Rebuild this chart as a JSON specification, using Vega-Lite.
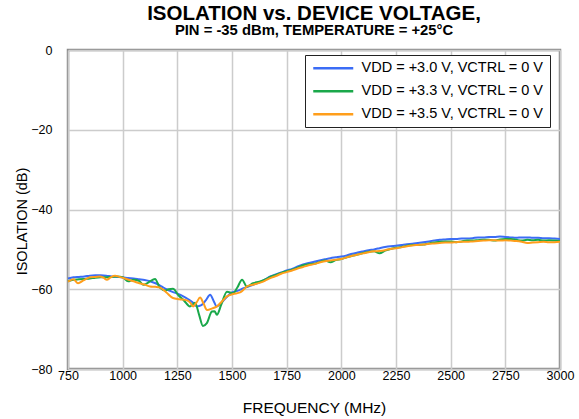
{
  "$schema": "https://vega.github.io/schema/vega-lite/v6.json",
  "width": 492,
  "height": 319,
  "autosize": {"type": "none"},
  "padding": {"left": 68, "top": 50, "right": 19, "bottom": 50},
  "background": "white",
  "title": {
    "text": "ISOLATION vs. DEVICE VOLTAGE,",
    "subtitle": "PIN = -35 dBm, TEMPERATURE = +25°C",
    "anchor": "middle",
    "font": "Liberation Sans",
    "fontSize": 20.5,
    "fontWeight": "bold",
    "color": "black",
    "subtitleFont": "Liberation Sans",
    "subtitleFontSize": 14.8,
    "subtitleFontWeight": "bold",
    "subtitleColor": "black",
    "subtitlePadding": -1,
    "offset": 6
  },
  "config": {
    "view": {"stroke": "#8a8a8a", "strokeWidth": 2.5},
    "axis": {
      "labelFont": "Liberation Sans",
      "labelFontSize": 12.5,
      "labelColor": "black",
      "titleFont": "Liberation Sans",
      "titleFontWeight": "normal",
      "titleColor": "black",
      "gridColor": "#cccccc",
      "gridWidth": 1.5,
      "gridOpacity": 1,
      "ticks": false,
      "domain": false
    }
  },
  "datasets": {
    "v30": [
      {"f":750,"v":-57.3},{"f":775,"v":-57.0},{"f":800,"v":-56.9},{"f":825,"v":-56.8},{"f":850,"v":-56.6},{"f":875,"v":-56.5},{"f":900,"v":-56.5},{"f":925,"v":-56.6},{"f":950,"v":-56.8},{"f":975,"v":-56.9},
      {"f":1000,"v":-57.0},{"f":1025,"v":-57.2},{"f":1050,"v":-57.3},{"f":1075,"v":-57.5},{"f":1100,"v":-57.7},{"f":1125,"v":-58.0},{"f":1150,"v":-58.5},{"f":1175,"v":-59.2},{"f":1200,"v":-60.0},{"f":1225,"v":-60.6},
      {"f":1250,"v":-61.1},{"f":1275,"v":-61.7},{"f":1300,"v":-62.5},{"f":1325,"v":-63.5},{"f":1340,"v":-64.3},{"f":1360,"v":-64.0},{"f":1380,"v":-62.8},{"f":1400,"v":-61.4},{"f":1415,"v":-62.8},{"f":1430,"v":-64.3},
      {"f":1450,"v":-63.5},{"f":1475,"v":-62.0},{"f":1500,"v":-60.8},{"f":1525,"v":-60.4},{"f":1550,"v":-59.8},{"f":1575,"v":-59.3},{"f":1600,"v":-58.8},{"f":1625,"v":-58.3},{"f":1650,"v":-57.6},{"f":1675,"v":-56.8},
      {"f":1700,"v":-56.3},{"f":1725,"v":-55.8},{"f":1750,"v":-55.3},{"f":1775,"v":-54.9},{"f":1800,"v":-54.3},{"f":1825,"v":-53.8},{"f":1850,"v":-53.4},{"f":1875,"v":-53.1},{"f":1900,"v":-52.8},{"f":1925,"v":-52.5},
      {"f":1950,"v":-52.2},{"f":1975,"v":-52.0},{"f":2000,"v":-51.8},{"f":2025,"v":-51.5},{"f":2050,"v":-51.1},{"f":2075,"v":-50.8},{"f":2100,"v":-50.5},{"f":2125,"v":-50.2},{"f":2150,"v":-50.0},{"f":2175,"v":-49.7},
      {"f":2200,"v":-49.4},{"f":2225,"v":-49.2},{"f":2250,"v":-49.1},{"f":2275,"v":-48.9},{"f":2300,"v":-48.7},{"f":2325,"v":-48.6},{"f":2350,"v":-48.4},{"f":2375,"v":-48.2},{"f":2400,"v":-48.0},{"f":2425,"v":-47.8},
      {"f":2450,"v":-47.6},{"f":2475,"v":-47.5},{"f":2500,"v":-47.4},{"f":2525,"v":-47.4},{"f":2550,"v":-47.3},{"f":2575,"v":-47.3},{"f":2600,"v":-47.2},{"f":2625,"v":-47.0},{"f":2650,"v":-47.0},{"f":2675,"v":-46.9},
      {"f":2700,"v":-46.9},{"f":2725,"v":-46.8},{"f":2750,"v":-46.9},{"f":2775,"v":-47.0},{"f":2800,"v":-47.1},{"f":2825,"v":-47.0},{"f":2850,"v":-47.0},{"f":2875,"v":-47.1},{"f":2900,"v":-47.1},{"f":2925,"v":-47.2},
      {"f":2950,"v":-47.2},{"f":2975,"v":-47.3},{"f":3000,"v":-47.4}
    ],
    "v33": [
      {"f":750,"v":-58.0},{"f":775,"v":-57.6},{"f":800,"v":-57.5},{"f":825,"v":-57.4},{"f":850,"v":-57.3},{"f":875,"v":-57.1},{"f":900,"v":-57.0},{"f":925,"v":-57.0},{"f":950,"v":-56.9},{"f":975,"v":-56.8},
      {"f":1000,"v":-57.0},{"f":1025,"v":-58.0},{"f":1050,"v":-57.6},{"f":1075,"v":-57.9},{"f":1095,"v":-58.9},{"f":1120,"v":-58.2},{"f":1148,"v":-57.4},{"f":1170,"v":-59.6},{"f":1195,"v":-60.3},{"f":1210,"v":-60.0},
      {"f":1230,"v":-59.9},{"f":1255,"v":-61.5},{"f":1280,"v":-62.8},{"f":1308,"v":-64.3},{"f":1331,"v":-63.4},{"f":1350,"v":-66.5},{"f":1367,"v":-69.2},{"f":1385,"v":-68.5},{"f":1408,"v":-65.6},{"f":1420,"v":-65.5},
      {"f":1431,"v":-66.4},{"f":1450,"v":-64.0},{"f":1477,"v":-60.6},{"f":1505,"v":-61.0},{"f":1525,"v":-59.5},{"f":1546,"v":-57.6},{"f":1568,"v":-59.3},{"f":1596,"v":-58.5},{"f":1625,"v":-58.1},{"f":1650,"v":-57.6},
      {"f":1675,"v":-56.9},{"f":1700,"v":-56.4},{"f":1725,"v":-55.9},{"f":1750,"v":-55.5},{"f":1775,"v":-55.1},{"f":1800,"v":-54.6},{"f":1825,"v":-54.0},{"f":1850,"v":-53.7},{"f":1875,"v":-53.6},{"f":1900,"v":-53.2},
      {"f":1925,"v":-52.8},{"f":1950,"v":-53.2},{"f":1975,"v":-52.7},{"f":2000,"v":-52.4},{"f":2025,"v":-52.0},{"f":2050,"v":-51.6},{"f":2075,"v":-51.3},{"f":2100,"v":-50.9},{"f":2125,"v":-50.6},{"f":2150,"v":-50.5},
      {"f":2175,"v":-51.0},{"f":2200,"v":-50.3},{"f":2225,"v":-49.9},{"f":2250,"v":-49.6},{"f":2275,"v":-49.4},{"f":2300,"v":-49.1},{"f":2325,"v":-48.9},{"f":2350,"v":-48.9},{"f":2375,"v":-48.8},{"f":2400,"v":-48.5},
      {"f":2425,"v":-48.3},{"f":2450,"v":-48.1},{"f":2475,"v":-48.0},{"f":2500,"v":-48.0},{"f":2525,"v":-48.2},{"f":2550,"v":-48.0},{"f":2575,"v":-47.8},{"f":2600,"v":-47.8},{"f":2625,"v":-47.7},{"f":2650,"v":-47.6},
      {"f":2675,"v":-47.6},{"f":2700,"v":-47.8},{"f":2725,"v":-47.5},{"f":2750,"v":-47.4},{"f":2775,"v":-47.4},{"f":2800,"v":-47.6},{"f":2825,"v":-47.8},{"f":2850,"v":-47.6},{"f":2875,"v":-47.7},{"f":2900,"v":-47.6},
      {"f":2925,"v":-47.8},{"f":2950,"v":-47.7},{"f":2975,"v":-47.8},{"f":3000,"v":-47.9}
    ],
    "v35": [
      {"f":750,"v":-58.1},{"f":775,"v":-57.5},{"f":796,"v":-58.5},{"f":820,"v":-57.8},{"f":851,"v":-57.0},{"f":875,"v":-56.9},{"f":896,"v":-56.8},{"f":912,"v":-57.1},{"f":928,"v":-57.6},{"f":945,"v":-57.0},
      {"f":965,"v":-56.6},{"f":985,"v":-56.9},{"f":1010,"v":-57.3},{"f":1033,"v":-57.7},{"f":1050,"v":-58.0},{"f":1070,"v":-58.4},{"f":1100,"v":-58.8},{"f":1125,"v":-59.3},{"f":1150,"v":-59.4},{"f":1171,"v":-59.6},
      {"f":1200,"v":-60.8},{"f":1230,"v":-62.2},{"f":1260,"v":-62.5},{"f":1294,"v":-62.8},{"f":1310,"v":-63.4},{"f":1322,"v":-64.3},{"f":1338,"v":-63.3},{"f":1354,"v":-62.1},{"f":1370,"v":-63.6},{"f":1386,"v":-65.2},
      {"f":1410,"v":-64.8},{"f":1431,"v":-64.3},{"f":1455,"v":-63.0},{"f":1477,"v":-61.8},{"f":1505,"v":-61.2},{"f":1537,"v":-60.8},{"f":1555,"v":-60.0},{"f":1568,"v":-59.3},{"f":1600,"v":-58.8},{"f":1625,"v":-58.4},
      {"f":1650,"v":-57.9},{"f":1675,"v":-57.2},{"f":1700,"v":-56.7},{"f":1725,"v":-56.1},{"f":1750,"v":-55.7},{"f":1775,"v":-55.3},{"f":1800,"v":-54.8},{"f":1825,"v":-54.4},{"f":1850,"v":-54.0},{"f":1875,"v":-53.7},
      {"f":1900,"v":-53.3},{"f":1925,"v":-53.0},{"f":1950,"v":-52.8},{"f":1975,"v":-52.6},{"f":2000,"v":-52.4},{"f":2025,"v":-52.0},{"f":2050,"v":-51.6},{"f":2075,"v":-51.3},{"f":2100,"v":-51.0},{"f":2125,"v":-50.7},
      {"f":2150,"v":-50.5},{"f":2175,"v":-50.4},{"f":2200,"v":-50.2},{"f":2225,"v":-49.9},{"f":2250,"v":-49.7},{"f":2275,"v":-49.5},{"f":2300,"v":-49.2},{"f":2325,"v":-49.0},{"f":2350,"v":-48.9},{"f":2375,"v":-48.8},
      {"f":2400,"v":-48.6},{"f":2425,"v":-48.5},{"f":2450,"v":-48.4},{"f":2475,"v":-48.3},{"f":2500,"v":-48.3},{"f":2525,"v":-48.2},{"f":2550,"v":-48.1},{"f":2575,"v":-48.1},{"f":2600,"v":-48.0},{"f":2625,"v":-47.9},
      {"f":2650,"v":-47.8},{"f":2675,"v":-47.7},{"f":2700,"v":-47.7},{"f":2725,"v":-47.8},{"f":2750,"v":-47.7},{"f":2775,"v":-47.8},{"f":2800,"v":-47.9},{"f":2825,"v":-48.1},{"f":2850,"v":-48.4},{"f":2875,"v":-48.3},
      {"f":2900,"v":-48.2},{"f":2925,"v":-48.1},{"f":2950,"v":-48.2},{"f":2975,"v":-48.2},{"f":3000,"v":-48.1}
    ]
  },
  "encoding": {
    "x": {
      "field": "f", "type": "quantitative",
      "scale": {"domain": [750, 3000], "nice": false, "zero": false},
      "axis": {"values": [750,1000,1250,1500,1750,2000,2250,2500,2750,3000], "format": "d", "title": "FREQUENCY (MHz)", "titleFontSize": 15.5, "labelPadding": 0, "titlePadding": 19, "labelFlush": false}
    },
    "y": {
      "field": "v", "type": "quantitative",
      "scale": {"domain": [-80, 0], "nice": false},
      "axis": {"values": [-80,-60,-40,-20,0], "format": "d", "title": "ISOLATION (dB)", "titleFontSize": 14.5, "labelPadding": 16, "titlePadding": 1, "titleY": 171, "labelFlush": false}
    },
    "color": {
      "type": "nominal",
      "scale": {
        "domain": ["VDD = +3.0 V, VCTRL = 0 V", "VDD = +3.3 V, VCTRL = 0 V", "VDD = +3.5 V, VCTRL = 0 V"],
        "range": ["#3b6cf5", "#1aa84a", "#ff9e1b"]
      },
      "legend": {
        "title": null,
        "orient": "none",
        "legendX": 237,
        "legendY": 5,
        "symbolType": "M-4,0H4",
        "symbolSize": 100,
        "symbolStrokeWidth": 2.5,
        "symbolOffset": 15,
        "labelFont": "Liberation Sans",
        "labelFontSize": 14.5,
        "labelColor": "black",
        "labelOffset": 21,
        "labelLimit": 300,
        "rowPadding": 8,
        "padding": 6,
        "strokeColor": "#222222",
        "fillColor": "white"
      }
    }
  },
  "layer": [
    {"data": {"name": "v30"}, "mark": {"type": "line", "strokeWidth": 2, "interpolate": "monotone"}, "encoding": {"color": {"datum": "VDD = +3.0 V, VCTRL = 0 V"}}},
    {"data": {"name": "v33"}, "mark": {"type": "line", "strokeWidth": 2, "interpolate": "monotone"}, "encoding": {"color": {"datum": "VDD = +3.3 V, VCTRL = 0 V"}}},
    {"data": {"name": "v35"}, "mark": {"type": "line", "strokeWidth": 2, "interpolate": "monotone"}, "encoding": {"color": {"datum": "VDD = +3.5 V, VCTRL = 0 V"}}}
  ]
}
